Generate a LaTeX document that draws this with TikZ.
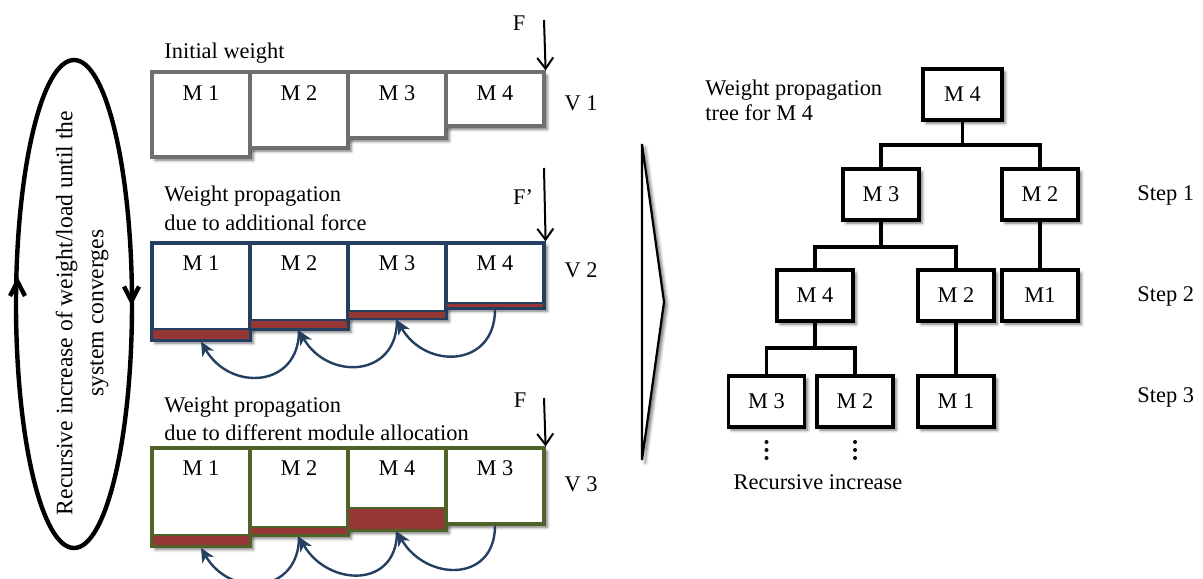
\documentclass[tikz,border=0pt]{standalone}
\usepackage{fontspec}
\setmainfont{Liberation Serif}
\usetikzlibrary{arrows.meta,fit,calc,shadows.blur}

\definecolor{boxgray}{HTML}{6F6F6F}
\definecolor{navy}{HTML}{243F60}
\definecolor{brick}{HTML}{953735}
\definecolor{olive}{HTML}{4F6228}

\tikzset{
  txt/.style={font=\fontsize{11.2}{13.5}\selectfont, inner sep=0pt},
  sh/.style={blur shadow={shadow xshift=1.6pt, shadow yshift=-1.6pt,
      shadow blur radius=1.5pt, shadow opacity=55}},
  modbox/.style={draw, fill=white, line width=1.6pt, inner sep=0pt, sh},
  grayrow/.style={modbox, draw=boxgray},
  bluerow/.style={modbox, draw=navy},
  greenrow/.style={modbox, draw=olive},
  bar/.style={fill=brick, line width=1pt},
  push/.style={line width=1pt, -{Straight Barb[length=5.5pt,width=8pt]}},
  hop/.style={draw=navy, line width=1.2pt,
      -{Stealth[length=7pt,width=6.5pt,inset=2pt]}, looseness=1.5},
  tbox/.style={draw, fill=white, line width=1.6pt, minimum width=38pt,
      minimum height=25.5pt, inner sep=0pt, sh, txt},
  tlink/.style={line width=1.6pt},
  chev/.style={draw, fill=white, line width=1.1pt, sh, line join=miter},
  loopline/.style={line width=2.2pt},
}

\begin{document}
\begin{tikzpicture}[x=0.5pt, y=-0.5pt]
\useasboundingbox (0,0) rectangle (1203,578);

% ---------- loop around the three stages ----------
\draw[loopline] (74,304) ellipse [x radius=58, y radius=244];
\draw[loopline] (10,296) -- (17.5,281.5) -- (25,296);
\draw[loopline] (124,286.5) -- (131.5,301) -- (139,286.5);
\node[font=\fontsize{11.8}{15.5}\selectfont, inner sep=0pt, rotate=90, align=center]
  (loop) at (82,313) {Recursive increase of weight/load until the\\system converges};

% ---------- V 1 : initial weight ----------
\node[txt, anchor=west] (init) at (164,53) {Initial weight};
\node[grayrow, fit={(152,72)(250,157)}] (v1a) {};
\node[grayrow, fit={(250,72)(348,148)}] (v1b) {};
\node[grayrow, fit={(348,72)(446,138)}] (v1c) {};
\node[grayrow, fit={(446,72)(544,126)}] (v1d) {};
\node[txt] (v1a-t) at ($(v1a.north)+(0,23)$) {M 1};
\node[txt] (v1b-t) at ($(v1b.north)+(0,23)$) {M 2};
\node[txt] (v1c-t) at ($(v1c.north)+(0,23)$) {M 3};
\node[txt] (v1d-t) at ($(v1d.north)+(0,23)$) {M 4};
\node[txt] (f1-t) at (519,23) {F};
\coordinate (f1) at (544,20);
\draw[push] (f1) -- (v1d.north east);
\node[txt] (v1) at (581,103) {V 1};

% ---------- V 2 : additional force ----------
\node[font=\fontsize{11.2}{14.5}\selectfont, inner sep=0pt, anchor=west, align=left]
  (add) at (164,208) {Weight propagation\\due to additional force};
\node[bluerow, fit={(152,243)(250,340)}] (v2a) {};
\draw[bar, draw=navy] (152,329) rectangle (250,340);
\node[bluerow, fit={(250,243)(348,329)}] (v2b) {};
\draw[bar, draw=navy] (250,320.3) rectangle (348,329);
\node[bluerow, fit={(348,243)(446,318.5)}] (v2c) {};
\draw[bar, draw=navy] (348,310.8) rectangle (446,318.5);
\node[bluerow, fit={(446,243)(544,308)}] (v2d) {};
\draw[bar, draw=navy] (446,302.5) rectangle (544,308);
\node[txt] (v2a-t) at ($(v2a.north)+(0,22)$) {M 1};
\node[txt] (v2b-t) at ($(v2b.north)+(0,22)$) {M 2};
\node[txt] (v2c-t) at ($(v2c.north)+(0,22)$) {M 3};
\node[txt] (v2d-t) at ($(v2d.north)+(0,22)$) {M 4};
\node[txt] (f2-t) at (523,197) {F'};
\coordinate (f2) at (544,168);
\draw[push] (f2) -- (v2d.north east);
\node[txt] (v2) at (581,270) {V 2};
\draw[hop] (v2d.south) to[out=-90, in=-60] (v2c.south);
\draw[hop] (v2c.south) to[out=-90, in=-60] (v2b.south);
\draw[hop] (v2b.south) to[out=-90, in=-60] (v2a.south);

% ---------- V 3 : different module allocation ----------
\node[font=\fontsize{11.2}{13.8}\selectfont, inner sep=0pt, anchor=west, align=left]
  (alloc) at (164,419) {Weight propagation\\due to different module allocation};
\node[greenrow, fit={(152,448)(250,546.3)}] (v3a) {};
\draw[bar, draw=olive] (152,535) rectangle (250,546.3);
\node[greenrow, fit={(250,448)(348,535.3)}] (v3b) {};
\draw[bar, draw=olive] (250,526.7) rectangle (348,535.3);
\node[greenrow, fit={(348,448)(446,530)}] (v3c) {};
\draw[bar, draw=olive] (348,508) rectangle (446,530);
\node[greenrow, fit={(446,448)(544,524)}] (v3d) {};
\node[txt] (v3a-t) at ($(v3a.north)+(0,22)$) {M 1};
\node[txt] (v3b-t) at ($(v3b.north)+(0,22)$) {M 2};
\node[txt] (v3c-t) at ($(v3c.north)+(0,22)$) {M 4};
\node[txt] (v3d-t) at ($(v3d.north)+(0,22)$) {M 3};
\node[txt] (f3-t) at (520,400) {F};
\coordinate (f3) at (544,398);
\draw[push] (f3) -- (v3d.north east);
\node[txt] (v3) at (581,484) {V 3};
\draw[hop] (v3d.south) to[out=-90, in=-60] (v3c.south);
\draw[hop] (v3c.south) to[out=-90, in=-60] (v3b.south);
\draw[hop] (v3b.south) to[out=-90, in=-60] (v3a.south);

% ---------- chevron ----------
\draw[chev] (642,144) -- (664,302) -- (642,460) -- cycle;

% ---------- propagation tree ----------
\node[font=\fontsize{11.2}{12.5}\selectfont, inner sep=0pt, anchor=west, align=left]
  (treecap) at (705,100) {Weight propagation\\tree for M 4};

\coordinate (j0) at (962.5,145);
\coordinate (j1) at (881,247);
\coordinate (j2) at (815,348);

\draw[tlink] (962.5,120) -- (j0) -| (881,169);
\draw[tlink] (j0) -| (1040,169);
\draw[tlink] (881,220) -- (j1) -| (815,270);
\draw[tlink] (j1) -| (956,270);
\draw[tlink] (1040,220) -- (1040,270);
\draw[tlink] (815,321) -- (j2) -| (766.5,376);
\draw[tlink] (j2) -| (855,376);
\draw[tlink] (956,321) -- (956,376);

\node[tbox, minimum width=39.5pt] (t0) at (962.5,94.5) {M 4};
\node[tbox] (s1a) at (881,194.5) {M 3};
\node[tbox] (s1b) at (1040,194.5) {M 2};
\node[tbox] (s2a) at (815,295.5) {M 4};
\node[tbox] (s2b) at (956,295.5) {M 2};
\node[tbox] (s2c) at (1040,295.5) {M1};
\node[tbox] (s3a) at (766.5,401.5) {M 3};
\node[tbox] (s3b) at (855,401.5) {M 2};
\node[tbox] (s3c) at (956,401.5) {M 1};

\foreach \px in {766.5,855}
  \foreach \py in {442,450,458}
    \fill (\px,\py) circle (2);

\node[txt] (rec) at (818,482) {Recursive increase};
\node[txt, anchor=west] (st1) at (1137,195) {Step 1};
\node[txt, anchor=west] (st2) at (1137,296) {Step 2};
\node[txt, anchor=west] (st3) at (1137,397) {Step 3};
\end{tikzpicture}
\end{document}
